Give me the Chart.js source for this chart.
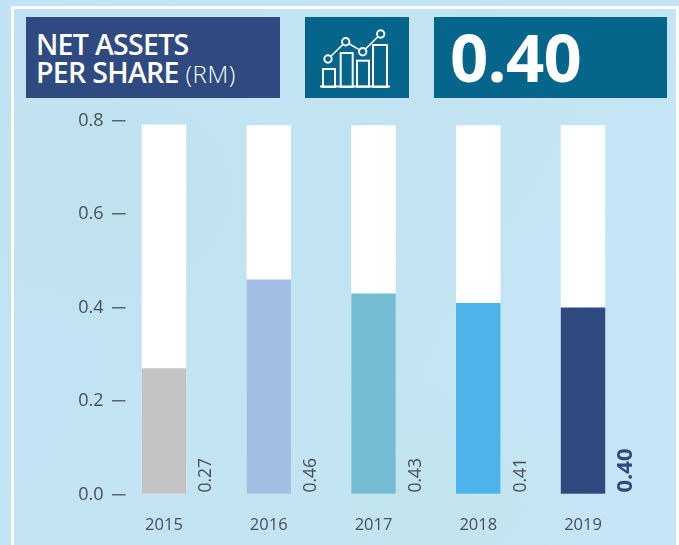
<!DOCTYPE html>
<html>
<head>
<meta charset="utf-8">
<script src="https://cdn.jsdelivr.net/npm/chart.js@4"></script>
<style>
html,body{margin:0;padding:0;width:679px;height:545px;overflow:hidden}
body{position:relative;background:
 radial-gradient(ellipse 200px 160px at 90px 190px,#c0e2ee,transparent),
 radial-gradient(ellipse 160px 120px at 440px 500px,#c2e4ec,transparent),
 radial-gradient(ellipse 200px 200px at 620px 400px,#c6e6f8,transparent),
 linear-gradient(120deg,#c0e2f4,#c2e4f2 50%,#c6e6f8);font-family:"Open Sans",sans-serif}
#frame{position:absolute;left:11px;top:6px;width:662px;height:560px;border:3px solid #fff;box-sizing:content-box}
.box{position:absolute;top:17px;height:81px;color:#fff}
#title{left:26px;width:254px;background:#2e4a80;font-weight:600;font-size:28.5px;line-height:28px;letter-spacing:-.7px;padding:13px 0 0 10px;box-sizing:border-box}
#title span{font-weight:300;font-size:24px;letter-spacing:.6px}
#icon{left:305px;width:104px;background:#05658a}
#big{left:434px;width:233px;background:#05658a;font-weight:700;font-size:67px;line-height:78px;padding-left:16px;box-sizing:border-box;letter-spacing:-.7px}
canvas{position:absolute;left:0;top:0}
</style>
</head>
<body>
<div id="frame"></div>
<div class="box" id="title">NET ASSETS<br>PER SHARE <span>(RM)</span></div>
<div class="box" id="icon">
<svg width="104" height="81" viewBox="0 0 104 81" fill="none" stroke="#fff" stroke-width="2">
<line x1="15" y1="69.5" x2="85" y2="69.5" stroke-width="2.2"/>
<rect x="18" y="52" width="12" height="18"/><rect x="35.7" y="36" width="12" height="34"/>
<rect x="52" y="43.7" width="12" height="26"/><rect x="68" y="28" width="14" height="42"/>
<polyline points="23,42 40.7,24.7 57.7,34.7 75.7,17" stroke-width="1.6"/>
<circle cx="23" cy="42" r="3.7" fill="#05658a"/><circle cx="40.7" cy="24.7" r="3.7" fill="#05658a"/>
<circle cx="57.7" cy="34.7" r="3.7" fill="#05658a"/><circle cx="75.7" cy="17" r="3.7" fill="#05658a"/>
</svg>
</div>
<div class="box" id="big">0.40</div>
<canvas id="c" width="679" height="545"></canvas>
<script>
const categories = ["2015","2016","2017","2018","2019"];
const netAssets = [0.27,0.46,0.43,0.41,0.40];
const backdrop = [0.792,0.79,0.79,0.79,0.79];
const valueLabels = ["0.27","0.46","0.43","0.41","0.40"];
const barColors = ["#c4c4c4","#a4bde2","#74bbd4","#4cb4e8","#2e4a80"];
const yTicks = [0,0.2,0.4,0.6,0.8];

const valueLabelPlugin = {
  id:"valueLabels",
  afterDatasetsDraw(chart){
    const {ctx,scales:{x,y}} = chart;
    valueLabels.forEach((t,i)=>{
      const last = i===valueLabels.length-1;
      ctx.save();
      ctx.translate(x.getPixelForValue(i)+(last?43:42.5), y.getPixelForValue(0)-2);
      ctx.rotate(-Math.PI/2);
      ctx.font = (last?"700 22px":"400 17.5px")+' "Open Sans",sans-serif';
      ctx.fillStyle = last?"#2e4a80":"#4a4f52";
      ctx.textAlign = "left";
      ctx.textBaseline = "middle";
      ctx.fillText(t,0,0);
      ctx.restore();
    });
  }
};

new Chart(document.getElementById("c"),{
  type:"bar",
  data:{labels:categories,datasets:[
    {data:netAssets,backgroundColor:barColors,order:1,barPercentage:0.85,categoryPercentage:0.5},
    {data:backdrop,backgroundColor:"#ffffff",order:2,barPercentage:0.85,categoryPercentage:0.5}
  ]},
  plugins:[valueLabelPlugin],
  options:{
    responsive:false,animation:false,
    layout:{padding:{left:0,right:43.6,top:120.7,bottom:0}},
    plugins:{legend:{display:false},tooltip:{enabled:false}},
    scales:{
      x:{stacked:true,
        grid:{display:false},border:{display:false},
        ticks:{color:"#4a4f52",font:{family:'"Open Sans",sans-serif',size:16.5},padding:13,maxRotation:0},
        afterFit(s){s.height=50.5;}
      },
      y:{min:0,max:0.8,stacked:false,
        afterBuildTicks(s){s.ticks=yTicks.map(v=>({value:v}));},
        grid:{drawOnChartArea:false,drawTicks:true,tickLength:-14,color:"#5c6468",lineWidth:1.5},
        border:{display:false},
        ticks:{color:"#4a4f52",font:{family:'"Open Sans",sans-serif',size:18},padding:22,callback:v=>v.toFixed(1)},
        afterFit(s){s.width=111.6;}
      }
    }
  }
});
</script>
</body>
</html>
